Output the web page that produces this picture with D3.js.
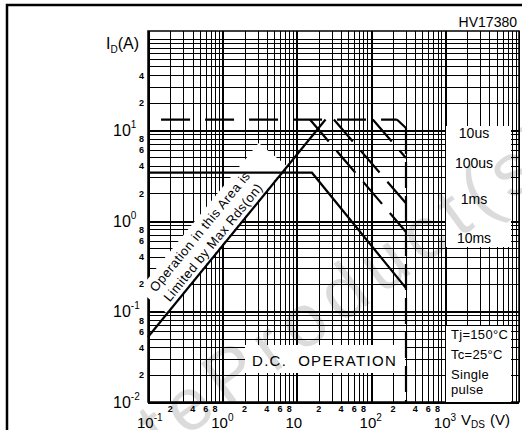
<!DOCTYPE html>
<html>
<head>
<meta charset="utf-8">
<script src="https://cdnjs.cloudflare.com/ajax/libs/d3/7.8.5/d3.min.js"></script>
<style>
body { margin: 0; background: #fff; }
svg { display: block; font-family: "Liberation Sans", Arial, sans-serif; }
</style>
</head>
<body>
<script>
// decade labels on both axes
var vDecades = [0.1, 1, 10, 100, 1000];
var vDecadeExp = ["-1", "0", "", "2", "3"];
var vMinor = [0.2, 0.4, 0.6, 0.8, 2, 4, 6, 8, 20, 40, 60, 80, 200, 400, 600, 800];
var iDecades = [0.01, 0.1, 1, 10];
var iDecadeExp = ["-2", "-1", "0", "1"];
var iMinor = [0.02, 0.04, 0.06, 0.08, 0.2, 0.4, 0.6, 0.8, 2, 4, 6, 8, 20, 40];

// limit lines
var rdsV = [0.1, 24.7];          // Rds(on) limit
var rdsI = [0.052, 13];
var dcV = [0.1, 16.2, 300];       // D.C. operation
var dcI = [3.37, 3.37, 0.18];
var idm = 13, idmStartV = 0.15, vdss = 300;
var pulseNames = ["10us", "100us", "1ms", "10ms"];
var pulseKneeV = [226, 107, 32, 15.2];
var pulseEndI = [10.5, 4.9, 1.55, 0.75];
var notes = ["Tj=150\u00b0C", "Tc=25\u00b0C", "Single", "pulse"];

var svg = d3.select("body").append("svg")
    .attr("width", 522)
    .attr("height", 430);

svg.append("rect").attr("width", 522).attr("height", 430).attr("fill", "#fff");

var x = d3.scaleLog().domain([0.1, 10000]).range([148, 519]);
var y = d3.scaleLog().domain([0.01, 123]).range([402, 31]);

// outer frame
svg.append("rect")
    .attr("x", 7).attr("y", 5).attr("width", 540).attr("height", 450)
    .attr("fill", "none").attr("stroke", "#000").attr("stroke-width", 2.5);

// log grid
var grid = svg.append("g").attr("stroke", "#000").attr("shape-rendering", "crispEdges");
grid.selectAll(".vg").data(x.ticks()).enter().append("line")
    .attr("x1", d => Math.round(x(d)) + 0.5).attr("x2", d => Math.round(x(d)) + 0.5)
    .attr("y1", 31).attr("y2", 402)
    .attr("stroke-width", d => vDecades.indexOf(d) >= 0 ? 2 : 1);
grid.selectAll(".hg").data(y.ticks()).enter().append("line")
    .attr("y1", d => Math.round(y(d)) + 0.5).attr("y2", d => Math.round(y(d)) + 0.5)
    .attr("x1", 148).attr("x2", 519)
    .attr("stroke-width", d => iDecades.indexOf(d) >= 0 ? 2 : 1);
svg.append("rect")
    .attr("x", 148).attr("y", 31).attr("width", 371).attr("height", 371)
    .attr("fill", "none").attr("stroke", "#000").attr("stroke-width", 1.5);

// white label boxes
svg.append("rect").attr("x", 446).attr("y", 126).attr("width", 65).attr("height", 121).attr("fill", "#fff");
svg.append("rect").attr("x", 446).attr("y", 326).attr("width", 65).attr("height", 76).attr("fill", "#fff");
svg.append("rect").attr("x", 245).attr("y", 345).attr("width", 160).attr("height", 28).attr("fill", "#fff");

// Rds(on) annotation band
var p0 = [x(rdsV[0]), y(rdsI[0])], p1 = [x(rdsV[1]), y(rdsI[1])];
var ang = Math.atan2(p1[1] - p0[1], p1[0] - p0[0]) * 180 / Math.PI;
var t = 0.158;
var band = svg.append("g")
    .attr("transform", "translate(" + (p0[0] + t * (p1[0] - p0[0])) + "," + (p0[1] + t * (p1[1] - p0[1])) + ") rotate(" + ang + ")");
band.append("rect").attr("x", -14).attr("y", -37).attr("width", 190).attr("height", 36).attr("fill", "#fff");
band.append("text").attr("x", -5).attr("y", -22).style("font-size", "13px").style("letter-spacing", "0.5px")
    .text("Operation in this Area is");
band.append("text").attr("x", -4).attr("y", -5).style("font-size", "13px").style("letter-spacing", "0.5px")
    .text("Limited by Max Rds(on)");

var line = d3.line().x(d => x(d[0])).y(d => y(d[1]));

// Rds(on) and D.C. lines
svg.append("path").datum(d3.zip(rdsV, rdsI)).attr("d", line)
    .attr("fill", "none").attr("stroke", "#000").attr("stroke-width", 2.2);
svg.append("path").datum(d3.zip(dcV, dcI)).attr("d", line)
    .attr("fill", "none").attr("stroke", "#000").attr("stroke-width", 2.2);

// pulse limits, dashed
var dashed = svg.append("g").attr("fill", "none").attr("stroke", "#000").attr("stroke-width", 2.2);
dashed.append("path").datum([[idmStartV, idm], [pulseKneeV[0], idm]]).attr("d", line)
    .attr("stroke-dasharray", "29,15");
pulseNames.forEach(function(n, i) {
    dashed.append("path").datum([[pulseKneeV[i], idm], [vdss, pulseEndI[i]]]).attr("d", line)
        .attr("stroke-dasharray", "29,12");
});
dashed.append("path").datum([[vdss, pulseEndI[0]], [vdss, 0.01]]).attr("d", line)
    .attr("stroke-dasharray", "26,8");

// legend texts
var legendY = [138, 168, 204, 243];
svg.selectAll(".pl").data(pulseNames).enter().append("text")
    .attr("x", 474).attr("y", (d, i) => legendY[i])
    .attr("text-anchor", "middle").style("font-size", "14px")
    .text(d => d);
var noteY = [339, 359, 379, 394];
svg.selectAll(".nt").data(notes).enter().append("text")
    .attr("x", 451).attr("y", (d, i) => noteY[i])
    .style("font-size", "13px").style("letter-spacing", "0.3px")
    .text(d => d);
svg.append("text").attr("x", 252).attr("y", 366)
    .attr("xml:space", "preserve")
    .style("font-size", "15px").style("letter-spacing", "1.3px")
    .text("D.C.  OPERATION");

svg.append("text").attr("x", 517).attr("y", 27).attr("text-anchor", "end")
    .style("font-size", "14px").text("HV17380");

// y axis labels
var yl = svg.append("g");
iDecades.forEach(function(d, i) {
    var tx = yl.append("text").attr("x", 113).attr("y", y(d) + 6).style("font-size", "16px");
    tx.append("tspan").text("10");
    tx.append("tspan").attr("dy", -8).style("font-size", "10px").text(iDecadeExp[i]);
});
yl.selectAll(".ym").data(iMinor).enter().append("text")
    .attr("x", 144).attr("y", d => y(d) + 3.5).attr("text-anchor", "end")
    .style("font-size", "9px").style("font-weight", "bold")
    .text(d => String(d).replace(/^0\.0?/, "").replace(/0$/, "") );
var yt = svg.append("text").attr("x", 106).attr("y", 49).style("font-size", "16px");
yt.append("tspan").text("I");
yt.append("tspan").attr("dy", 4).style("font-size", "10px").text("D");
yt.append("tspan").attr("dy", -4).text("(A)");

// x axis labels
var xl = svg.append("g");
vDecades.forEach(function(d, i) {
    var tx = xl.append("text").attr("x", x(d) - 11).attr("y", 428).style("font-size", "15px");
    tx.append("tspan").text("10");
    if (vDecadeExp[i]) tx.append("tspan").attr("dy", -7).style("font-size", "10px").text(vDecadeExp[i]);
});
xl.selectAll(".xm").data(vMinor).enter().append("text")
    .attr("x", d => x(d)).attr("y", 412).attr("text-anchor", "middle")
    .style("font-size", "9px").style("font-weight", "bold")
    .text(d => String(d).replace(/^0\./, "").replace(/0+$/, ""));
var xt = svg.append("text").attr("x", 461).attr("y", 425).style("font-size", "15px");
xt.append("tspan").text("V");
xt.append("tspan").attr("dy", 3).style("font-size", "10px").text("DS");
xt.append("tspan").attr("dy", -3).attr("dx", 5).text("(V)");

// watermark
var wm = svg.append("g").attr("transform", "translate(226,408) rotate(-36)")
    .style("font-size", "74px").style("letter-spacing", "9px")
    .attr("fill", "#000").attr("fill-opacity", 0.14);
wm.append("text").attr("text-anchor", "end").text("Obsolete ");
wm.append("text").text("Product(s)");
</script>
</body>
</html>
